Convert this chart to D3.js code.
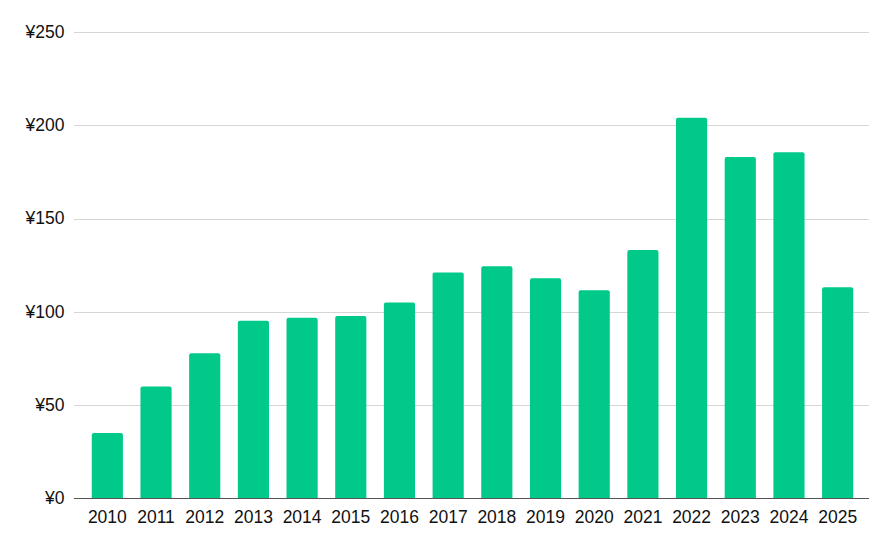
<!DOCTYPE html>
<html>
<head>
<meta charset="utf-8">
<script src="https://cdn.jsdelivr.net/npm/d3@7"></script>
<style>
  body { margin: 0; background: #fff; }
  svg { display: block; font-family: "Liberation Sans", Arial, sans-serif; }
</style>
</head>
<body>
<svg id="chart" width="892" height="550"></svg>
<script>
const years = ["2010","2011","2012","2013","2014","2015","2016","2017","2018","2019","2020","2021","2022","2023","2024","2025"];
const values = [35, 60, 77.8, 95.3, 96.9, 97.8, 105.1, 121.2, 124.5, 118, 111.6, 133.2, 204.2, 183.1, 185.6, 113.2];
const yTicks = [0, 50, 100, 150, 200, 250];

const svg = d3.select("#chart");
const x = d3.scaleBand().domain(years).range([83, 862]).paddingInner(0.36).paddingOuter(0.5 * 0.36);
const y = d3.scaleLinear().domain([0, 250]).range([498.3, 32.3]);

// gridlines
svg.append("g").selectAll("line").data(yTicks.filter(d => d > 0)).join("line")
  .attr("x1", 74).attr("x2", 869)
  .attr("y1", d => Math.round(y(d)) + 0.5).attr("y2", d => Math.round(y(d)) + 0.5)
  .attr("stroke", "#d6d6d6").attr("stroke-width", 1);

// y labels
svg.append("g").selectAll("text").data(yTicks).join("text")
  .attr("x", 64.5).attr("y", d => y(d)).attr("dy", "0.33em")
  .attr("text-anchor", "end").attr("font-size", 17.5).attr("fill", "#111")
  .text(d => "¥" + d);

// bars with rounded top corners
const r = 2;
svg.append("g").selectAll("path").data(values).join("path")
  .attr("fill", "#00c98a")
  .attr("d", (d, i) => {
    const x0 = x(years[i]), w = x.bandwidth(), y0 = y(d), yb = y(0);
    return `M${x0},${yb}V${y0 + r}Q${x0},${y0} ${x0 + r},${y0}H${x0 + w - r}Q${x0 + w},${y0} ${x0 + w},${y0 + r}V${yb}Z`;
  });

// baseline
svg.append("line").attr("x1", 74).attr("x2", 869)
  .attr("y1", 498.5).attr("y2", 498.5).attr("stroke", "#555").attr("stroke-width", 1);

// x labels
svg.append("g").selectAll("text").data(years).join("text")
  .attr("x", d => x(d) + x.bandwidth() / 2).attr("y", 522.7)
  .attr("text-anchor", "middle").attr("font-size", 17.5).attr("fill", "#111")
  .text(d => d);
</script>
</body>
</html>
